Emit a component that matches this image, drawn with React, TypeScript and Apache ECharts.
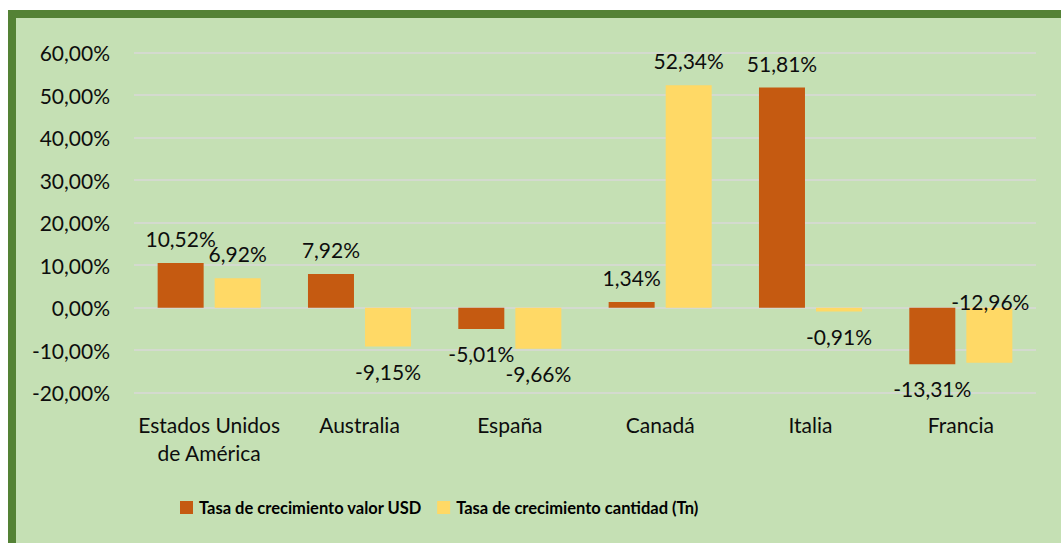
import React, { useEffect, useRef } from "react";
import * as echarts from "echarts";

const categories = ["Estados Unidos\nde América", "Australia", "España", "Canadá", "Italia", "Francia"];
const valorUSD = [10.52, 7.92, -5.01, 1.34, 51.81, -13.31];
const cantidadTn = [6.92, -9.15, -9.66, 52.34, -0.91, -12.96];
const seriesNames = ["Tasa de crecimiento valor USD", "Tasa de crecimiento cantidad (Tn)"];
const yMin = -20;
const yMax = 60;
const yInterval = 10;

const fmt = (v: number) => v.toFixed(2).replace(".", ",") + "%";
const FONT = "Lato, 'Noto Sans', sans-serif";

export default function App() {
  const ref = useRef<HTMLDivElement>(null);
  useEffect(() => {
    if (!ref.current) return;
    const chart = echarts.init(ref.current, null, { renderer: "svg" });
    const labelBase = {
      show: true,
      position: "outside",
      distance: 14,
      fontFamily: FONT,
      fontSize: 21,
      color: "#0d0d0d",
      formatter: (p: any) => fmt(p.value),
    };
    chart.setOption({
      animation: false,
      textStyle: { fontFamily: FONT },
      grid: { left: 126, right: 25, top: 42.7, bottom: 150.3, containLabel: false },
      legend: {
        left: 172,
        top: 489,
        padding: 0,
        itemWidth: 13,
        itemHeight: 13,
        itemGap: 15,
        icon: "rect",
        textStyle: { fontFamily: FONT, fontSize: 16.5, fontWeight: "bold", color: "#000", padding: [0, 0, 0, 1] },
        data: seriesNames,
      },
      xAxis: {
        type: "category",
        data: categories,
        axisLine: { show: false },
        axisTick: { show: false },
        axisLabel: { interval: 0, fontFamily: FONT, fontSize: 21, color: "#0d0d0d", margin: 18, lineHeight: 28 },
      },
      yAxis: {
        type: "value",
        min: yMin,
        max: yMax,
        interval: yInterval,
        axisLine: { show: false },
        axisTick: { show: false },
        splitLine: { lineStyle: { color: "#d9d9d9", width: 1.5 } },
        axisLabel: { fontFamily: FONT, fontSize: 21, color: "#0d0d0d", margin: 24, formatter: (v: number) => fmt(v) },
      },
      series: [
        {
          name: seriesNames[0],
          type: "bar",
          barWidth: 46,
          barGap: "24%",
          itemStyle: { color: "#c55a11" },
          label: labelBase,
          data: valorUSD,
        },
        {
          name: seriesNames[1],
          type: "bar",
          barWidth: 46,
          barGap: "24%",
          itemStyle: { color: "#ffd966" },
          label: labelBase,
          data: cantidadTn.map((v, i) =>
            i === 5 ? { value: v, label: { position: "insideTop", distance: 0, offset: [1, -17] } } : v
          ),
        },
      ],
    });
    return () => chart.dispose();
  }, []);
  return (
    <>
      <div
        style={{
          position: "absolute",
          left: 8,
          top: 10,
          width: 1053,
          height: 533,
          background: "#c5e0b4",
          borderTop: "8px solid #548235",
          borderLeft: "8px solid #548235",
          boxSizing: "border-box",
        }}
      />
      <div ref={ref} style={{ position: "absolute", left: 8, top: 10, width: 1053, height: 533 }} />
    </>
  );
}
